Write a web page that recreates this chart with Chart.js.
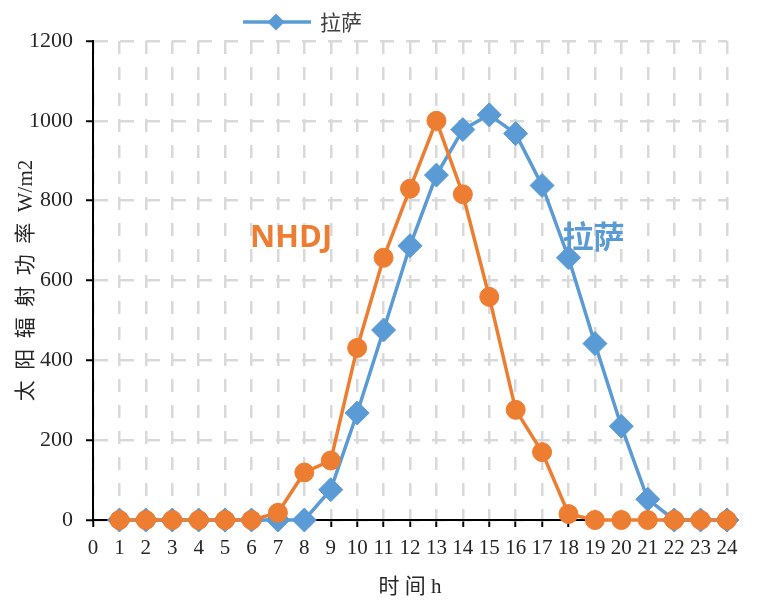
<!DOCTYPE html>
<html>
<head>
<meta charset="utf-8">
<script src="https://cdn.jsdelivr.net/npm/chart.js@4.4.1/dist/chart.umd.min.js"></script>
<style>
  html, body { margin: 0; padding: 0; background: #ffffff; }
  #wrap { width: 757px; height: 606px; }
</style>
</head>
<body>
<div id="wrap"><canvas id="c" width="757" height="606"></canvas></div>
<script>
// Hours of the day (x values)
const hours = [1, 2, 3, 4, 5, 6, 7, 8, 9, 10, 11, 12, 13, 14, 15, 16, 17, 18, 19, 20, 21, 22, 23, 24];
// Solar irradiance, W/m2
const nhdj  = [0, 0, 0, 0, 0, 0, 18, 119, 149, 431, 657, 830, 1000, 816, 559, 276, 170, 15, 0, 0, 0, 0, 0, 0];
const lhasa = [0, 0, 0, 0, 0, 0, 0, 0, 76, 268, 476, 687, 864, 978, 1015, 968, 838, 657, 442, 235, 52, 0, 0, 0];
// Axis settings
const xTicks = { min: 0, max: 24, step: 1 };
const yTicks = { min: 0, max: 1200, step: 200 };

const BLUE = '#5B9BD5';
const ORANGE = '#ED7D31';
const SERIF = '"Liberation Serif", "Noto Sans CJK SC", serif';

const toXY = (vals) => vals.map((v, i) => ({ x: hours[i], y: v }));

// Single legend entry (line + diamond) drawn above the plot
const legendPlugin = {
  id: 'lineLegend',
  afterDraw(chart, args, opts) {
    const { ctx, chartArea } = chart;
    const x0 = chartArea.left + opts.offset;
    const y = opts.y;
    ctx.save();
    ctx.strokeStyle = opts.color;
    ctx.lineWidth = 3.5;
    ctx.beginPath();
    ctx.moveTo(x0, y);
    ctx.lineTo(x0 + 68, y);
    ctx.stroke();
    const cx = x0 + 33, r = 8.5;
    ctx.fillStyle = opts.color;
    ctx.beginPath();
    ctx.moveTo(cx, y - r);
    ctx.lineTo(cx + r, y);
    ctx.lineTo(cx, y + r);
    ctx.lineTo(cx - r, y);
    ctx.closePath();
    ctx.fill();
    ctx.fillStyle = '#404040';
    ctx.font = '21px ' + SERIF;
    ctx.textBaseline = 'middle';
    ctx.textAlign = 'left';
    ctx.fillText(opts.text, x0 + 77, y + 2);
    ctx.restore();
  }
};

// Series name notes placed in data units
const notePlugin = {
  id: 'seriesNotes',
  afterDatasetsDraw(chart, args, opts) {
    const { ctx, scales } = chart;
    ctx.save();
    ctx.textAlign = 'center';
    ctx.textBaseline = 'middle';
    opts.items.forEach(n => {
      ctx.fillStyle = n.color;
      ctx.font = n.font;
      ctx.fillText(n.text, scales.x.getPixelForValue(n.x), scales.y.getPixelForValue(n.y));
    });
    ctx.restore();
  }
};

new Chart(document.getElementById('c'), {
  type: 'line',
  data: {
    datasets: [
      {
        label: 'NHDJ',
        data: toXY(nhdj),
        borderColor: ORANGE,
        backgroundColor: ORANGE,
        borderWidth: 3.5,
        pointStyle: 'circle',
        pointRadius: 9.5,
        pointBorderWidth: 1,
        pointBackgroundColor: ORANGE,
        pointBorderColor: ORANGE,
        tension: 0,
        clip: false
      },
      {
        label: '拉萨',
        data: toXY(lhasa),
        borderColor: BLUE,
        backgroundColor: BLUE,
        borderWidth: 3.5,
        pointStyle: 'rectRot',
        pointRadius: 12,
        pointBorderWidth: 1,
        pointBackgroundColor: BLUE,
        pointBorderColor: BLUE,
        tension: 0,
        clip: false
      }
    ]
  },
  options: {
    responsive: false,
    animation: false,
    devicePixelRatio: 1,
    layout: { padding: { top: 41, right: 30, left: 0, bottom: 0 } },
    plugins: {
      legend: { display: false },
      tooltip: { enabled: false },
      lineLegend: { text: '拉萨', color: BLUE, offset: 150, y: 22 },
      seriesNotes: {
        items: [
          { text: 'NHDJ', x: 7.5, y: 707, color: ORANGE, font: 'bold 31px "Open Sans", "Liberation Sans", sans-serif' },
          { text: '拉萨', x: 18.95, y: 710, color: BLUE, font: 'bold 31px "Noto Sans CJK SC", sans-serif' }
        ]
      }
    },
    scales: {
      x: {
        type: 'linear',
        min: xTicks.min,
        max: xTicks.max,
        afterFit(scale) { scale.height = 86; },
        ticks: {
          stepSize: xTicks.step,
          autoSkip: false,
          maxRotation: 0,
          padding: 9,
          color: '#262626',
          font: { family: SERIF, size: 21 },
          callback: (v) => String(v)
        },
        grid: {
          color: '#D9D9D9',
          lineWidth: 2.5,
          drawTicks: true,
          tickLength: 7,
          tickWidth: 2,
          tickColor: '#000000',
          tickBorderDash: []
        },
        border: { display: true, color: '#000000', width: 2, dash: [13, 13] },
        title: {
          display: true,
          text: '时 间 h',
          color: '#262626',
          font: { family: SERIF, size: 21 },
          padding: { top: 0, bottom: 6 }
        }
      },
      y: {
        min: yTicks.min,
        max: yTicks.max,
        afterFit(scale) { scale.width = 93; },
        ticks: {
          stepSize: yTicks.step,
          padding: 13,
          color: '#262626',
          font: { family: SERIF, size: 22 },
          callback: (v) => String(v)
        },
        grid: {
          color: '#D9D9D9',
          lineWidth: 2.5,
          drawTicks: true,
          tickLength: 7,
          tickWidth: 2,
          tickColor: '#000000',
          tickBorderDash: []
        },
        border: { display: true, color: '#000000', width: 2, dash: [14, 12] },
        title: {
          display: true,
          text: '太\u2002阳\u2002辐\u2002射\u2002功\u2002率\u2002W/m2',
          color: '#262626',
          font: { family: SERIF, size: 21 },
          padding: { top: 14, bottom: 0 }
        }
      }
    }
  },
  plugins: [legendPlugin, notePlugin]
});
</script>
</body>
</html>
